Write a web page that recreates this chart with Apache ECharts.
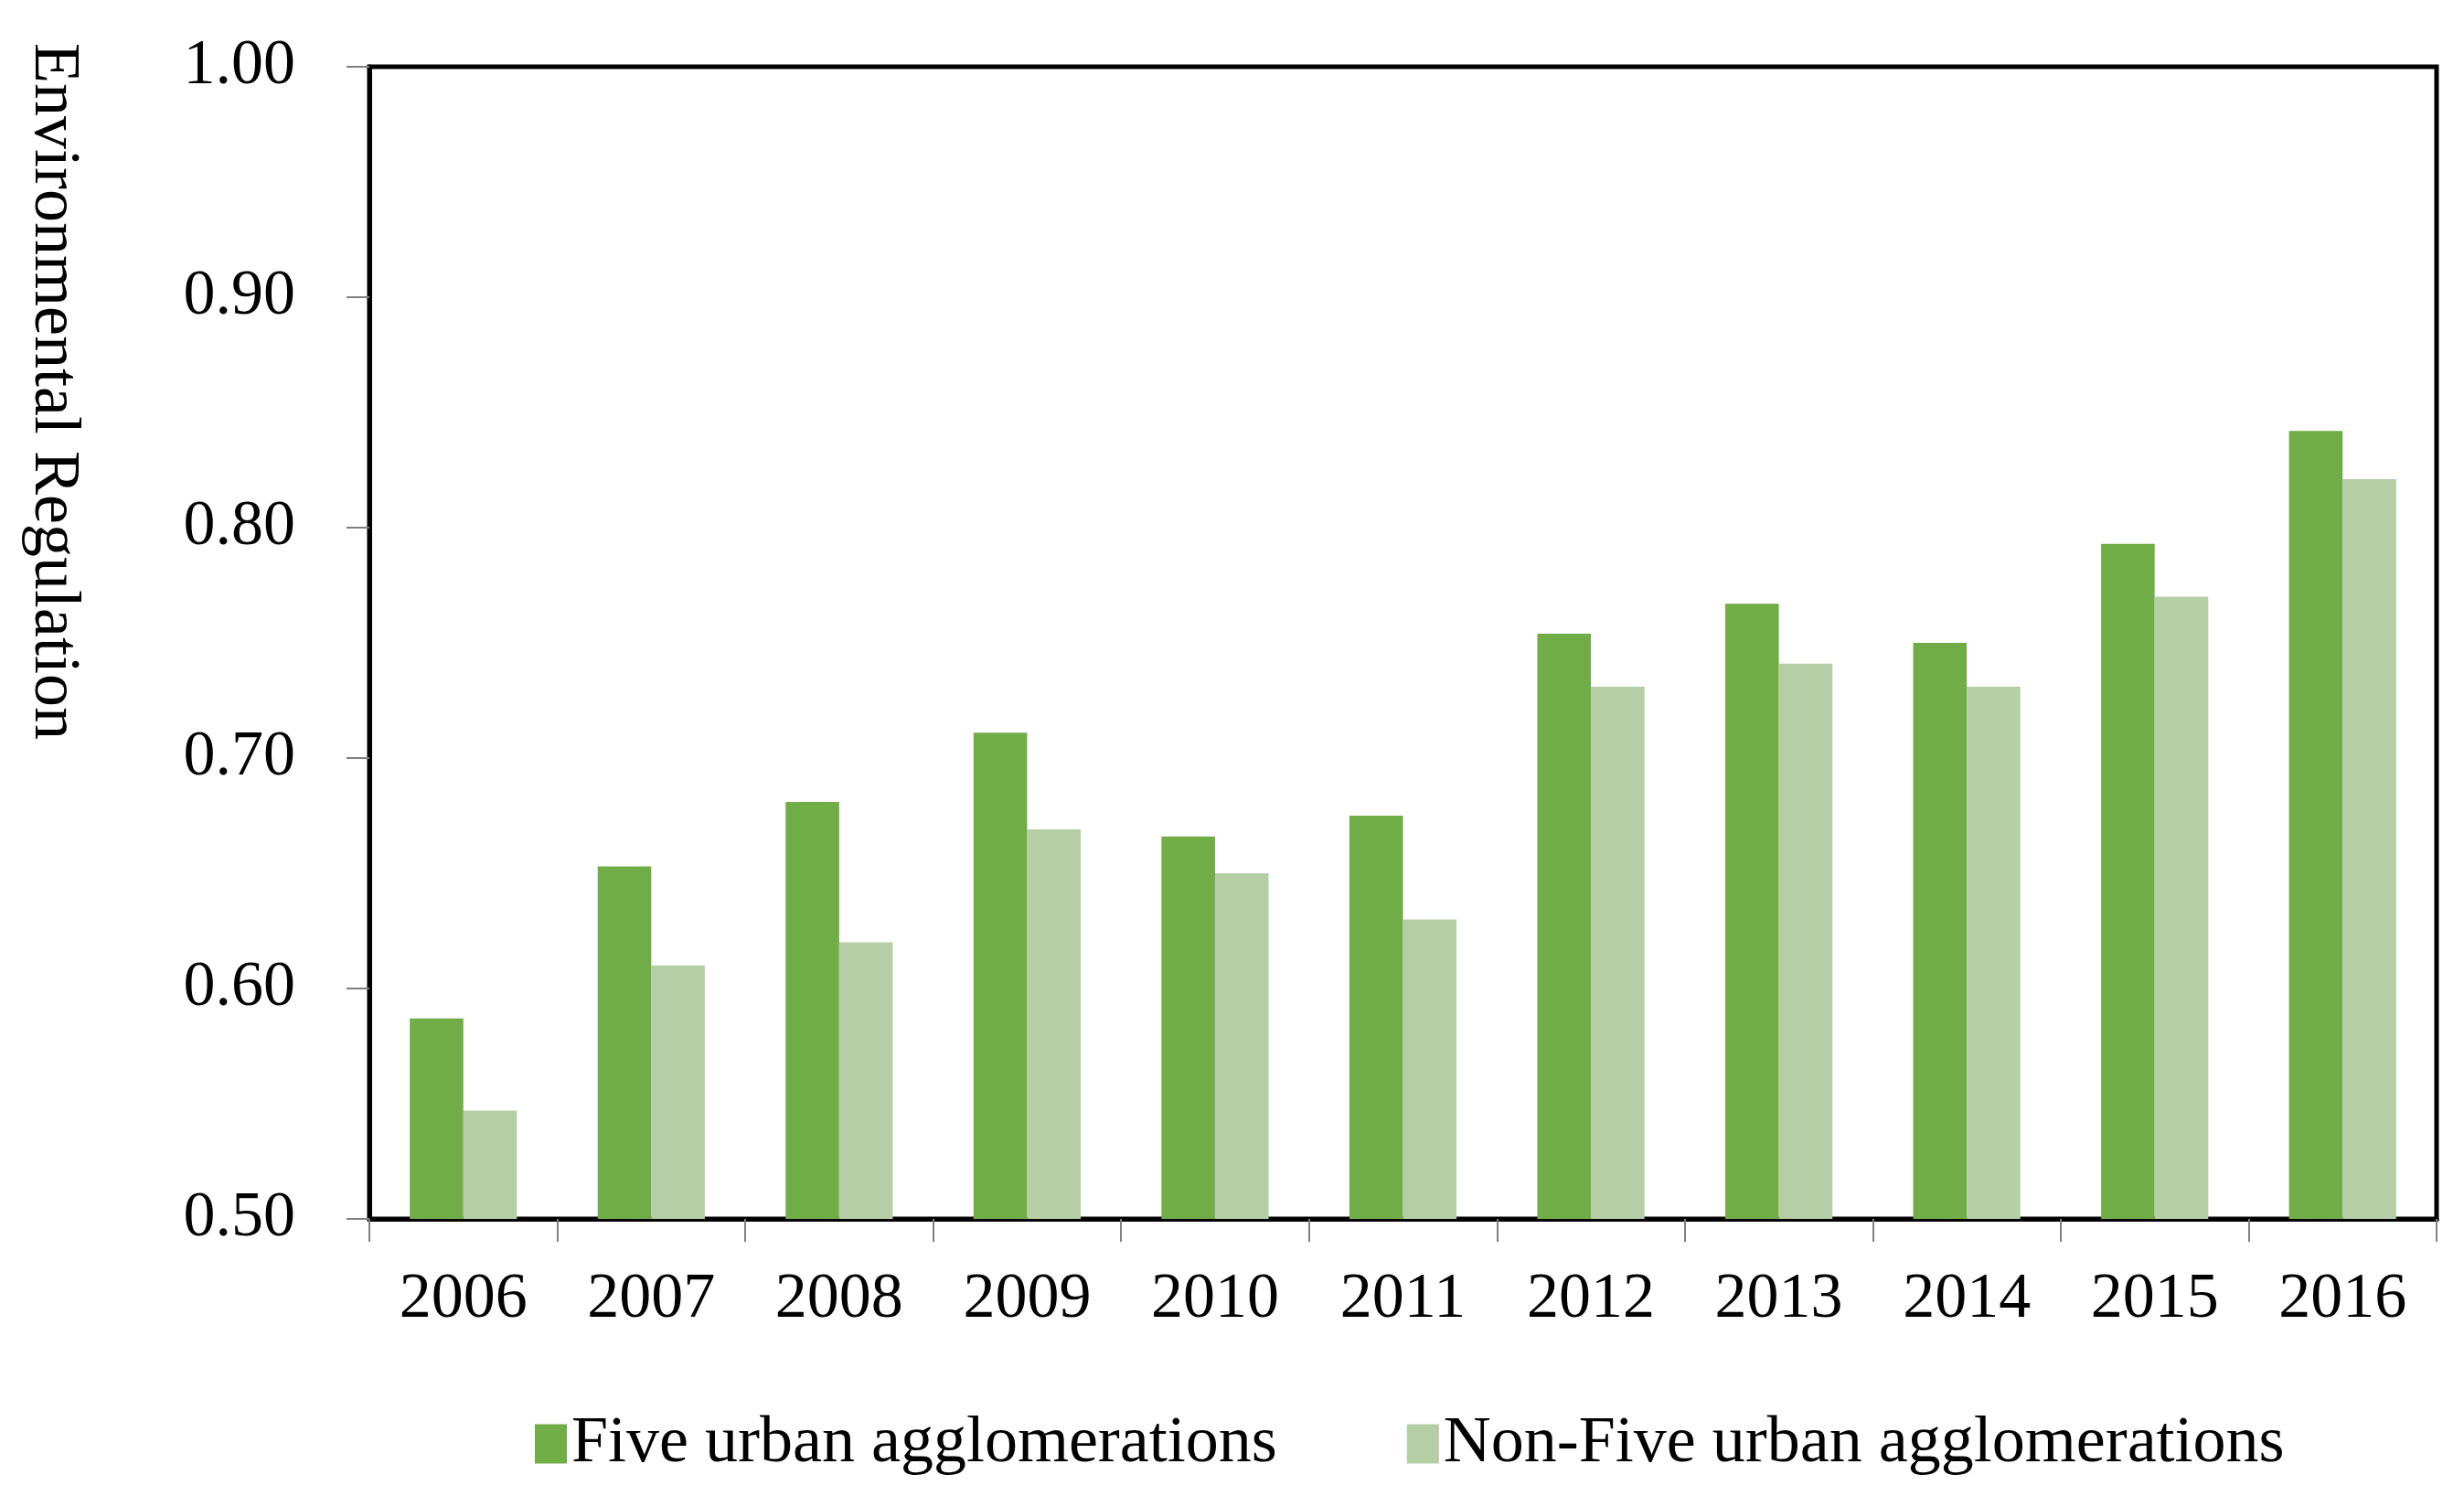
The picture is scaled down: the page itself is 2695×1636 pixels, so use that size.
<!DOCTYPE html>
<html><head><meta charset="utf-8">
<script src="https://cdn.jsdelivr.net/npm/echarts@6/dist/echarts.min.js"></script>
<style>html,body{margin:0;padding:0;background:#fff}#c{width:2695px;height:1636px}</style>
</head><body><div id="c"></div>
<script>
const years = ['2006','2007','2008','2009','2010','2011','2012','2013','2014','2015','2016'];
const fiveUrban = [0.587,0.653,0.681,0.711,0.666,0.675,0.754,0.767,0.750,0.793,0.842];
const nonFiveUrban = [0.547,0.610,0.620,0.669,0.650,0.630,0.731,0.741,0.731,0.770,0.821];
const seriesNames = ['Five urban agglomerations','Non-Five urban agglomerations'];
const yTitle = 'Environmental Regulation';
const yMin = 0.5, yMax = 1.0, yStep = 0.1;

const FONT = '"Liberation Serif", "Times New Roman", serif';
const chart = echarts.init(document.getElementById('c'));
chart.setOption({
  animation: false,
  backgroundColor: '#fff',
  grid: {left: 404, right: 30, top: 73, bottom: 303, show: true, borderColor: '#000', borderWidth: 5, containLabel: false},
  legend: {
    left: 580, top: 1538, itemWidth: 35, itemHeight: 43, itemGap: 142, icon: 'rect',
    textStyle: {fontFamily: FONT, fontSize: 72, color: '#000'},
    selectedMode: false,
    data: seriesNames
  },
  xAxis: {
    type: 'category', data: years,
    axisLine: {lineStyle: {color: '#000', width: 5}},
    axisTick: {show: true, length: 25, lineStyle: {color: '#808080', width: 2}},
    axisLabel: {fontFamily: FONT, fontSize: 70, color: '#000', margin: 54}
  },
  yAxis: {
    type: 'value', min: yMin, max: yMax, interval: yStep,
    splitLine: {show: false},
    axisLine: {show: true, lineStyle: {color: '#000', width: 5}},
    axisTick: {show: true, length: 25, lineStyle: {color: '#808080', width: 2}},
    axisLabel: {fontFamily: FONT, fontSize: 70, color: '#000', margin: 81, formatter: v => v.toFixed(2)}
  },
  graphic: [{
    type: 'text', x: 58, y: 428, rotation: -Math.PI / 2,
    style: {text: yTitle, fontFamily: FONT, fontSize: 72, fill: '#000', align: 'center', verticalAlign: 'middle', textAlign: 'center', textVerticalAlign: 'middle'}
  }],
  series: [
    {name: seriesNames[0], type: 'bar', data: fiveUrban, barGap: '0%', barCategoryGap: '43%',
     itemStyle: {color: '#70AD47'}, emphasis: {disabled: true}},
    {name: seriesNames[1], type: 'bar', data: nonFiveUrban, barGap: '0%', barCategoryGap: '43%',
     itemStyle: {color: '#B5CEA5'}, emphasis: {disabled: true}}
  ]
});
</script></body></html>
